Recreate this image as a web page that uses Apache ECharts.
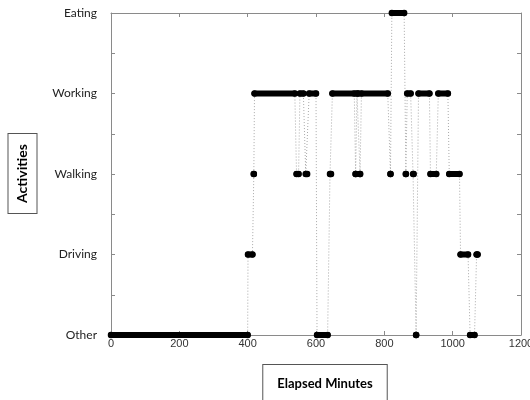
<!DOCTYPE html>
<html>
<head>
<meta charset="utf-8">
<script src="https://cdn.jsdelivr.net/npm/echarts@6/dist/echarts.min.js"></script>
<style>html,body{margin:0;padding:0;background:#fff}#c{width:530px;height:400px}</style>
</head>
<body>
<div id="c"></div>
<script>
// Activity names for y levels 0..4
var activityNames = ['Other', 'Driving', 'Walking', 'Working', 'Eating'];
// X tick values
var xTicks = [0, 200, 400, 600, 800, 1000, 1200];
// Consecutive activity runs (minutes)
var segStart    = [0,   401, 418, 420, 543, 553, 570, 580, 603, 641, 648, 716, 720, 729, 733, 818, 822, 863, 867, 884, 893, 900, 935, 958, 990, 1023, 1051, 1070];
var segEnd      = [400, 414, 418, 538, 549, 563, 574, 600, 634, 644, 712, 716, 724, 729, 810, 818, 858, 863, 877, 886, 893, 932, 952, 986, 1020, 1045, 1064, 1073];
var segActivity = [0,   1,   2,   3,   2,   3,   2,   3,   0,   2,   3,   2,   3,   2,   3,   2,   4,   2,   3,   2,   0,   3,   2,   3,   2,    1,    0,    1];

var pathData = [];
var runData = [];
for (var i = 0; i < segStart.length; i++) {
  pathData.push([segStart[i], segActivity[i]]);
  pathData.push([segEnd[i], segActivity[i]]);
  runData.push([segStart[i], segActivity[i]]);
  runData.push([segEnd[i], segActivity[i]]);
  runData.push([segEnd[i], '-']);
}

var chart = echarts.init(document.getElementById('c'), null, {renderer: 'canvas'});
var axisColor = '#8a8a8a';
function axisLine() { return {show: true, onZero: false, lineStyle: {color: axisColor, width: 1}}; }
function axisTick() { return {show: true, inside: true, length: 4, lineStyle: {color: axisColor}}; }
chart.setOption({
  animation: false,
  grid: {left: 111, right: 9, top: 13, bottom: 65, containLabel: false, outerBoundsMode: 'none'},
  xAxis: [{
    type: 'value', position: 'bottom', min: xTicks[0], max: xTicks[xTicks.length - 1], interval: 200,
    axisLine: axisLine(), axisTick: axisTick(),
    axisLabel: {margin: 3, fontFamily: 'Liberation Sans', fontSize: 11, color: '#333',
      formatter: function (v) { return String(v); }},
    splitLine: {show: false}
  }, {
    type: 'value', position: 'top', min: xTicks[0], max: xTicks[xTicks.length - 1], interval: 200,
    axisLine: axisLine(), axisTick: axisTick(),
    axisLabel: {show: false}, splitLine: {show: false}
  }],
  yAxis: [{
    type: 'value', position: 'left', min: 0, max: 4, interval: 0.5,
    axisLine: axisLine(), axisTick: axisTick(),
    axisLabel: {
      margin: 14, fontFamily: 'Lato', fontSize: 12, color: '#222',
      formatter: function (v) { return Number.isInteger(v) ? activityNames[v] : ''; }
    },
    splitLine: {show: false}
  }, {
    type: 'value', position: 'right', min: 0, max: 4, interval: 0.5,
    axisLine: axisLine(), axisTick: axisTick(),
    axisLabel: {show: false}, splitLine: {show: false}
  }],
  series: [{
    type: 'line', data: pathData, showSymbol: false, clip: false,
    lineStyle: {color: '#a8a8a8', width: 1, type: [1, 2]},
    silent: true, z: 2
  }, {
    type: 'line', data: runData, clip: false, connectNulls: false,
    showSymbol: true, showAllSymbol: true, symbol: 'circle', symbolSize: 6.5,
    itemStyle: {color: '#000'},
    lineStyle: {color: '#000', width: 6, cap: 'round'},
    silent: true, z: 3
  }],
  graphic: [{
    type: 'text', x: 22.5, y: 173.5, rotation: Math.PI / 2,
    style: {
      text: 'Activities', font: 'bold 14px Lato', fill: '#000',
      align: 'center', verticalAlign: 'middle',
      borderColor: '#555', borderWidth: 1, padding: [7, 10, 7, 10], backgroundColor: '#fff'
    }
  }, {
    type: 'text', x: 325, y: 384,
    style: {
      text: 'Elapsed Minutes', font: 'bold 13px Lato', fill: '#000',
      align: 'center', verticalAlign: 'middle',
      borderColor: '#555', borderWidth: 1, padding: [5, 14, 20, 14], backgroundColor: '#fff'
    }
  }]
});
</script>
</body>
</html>
